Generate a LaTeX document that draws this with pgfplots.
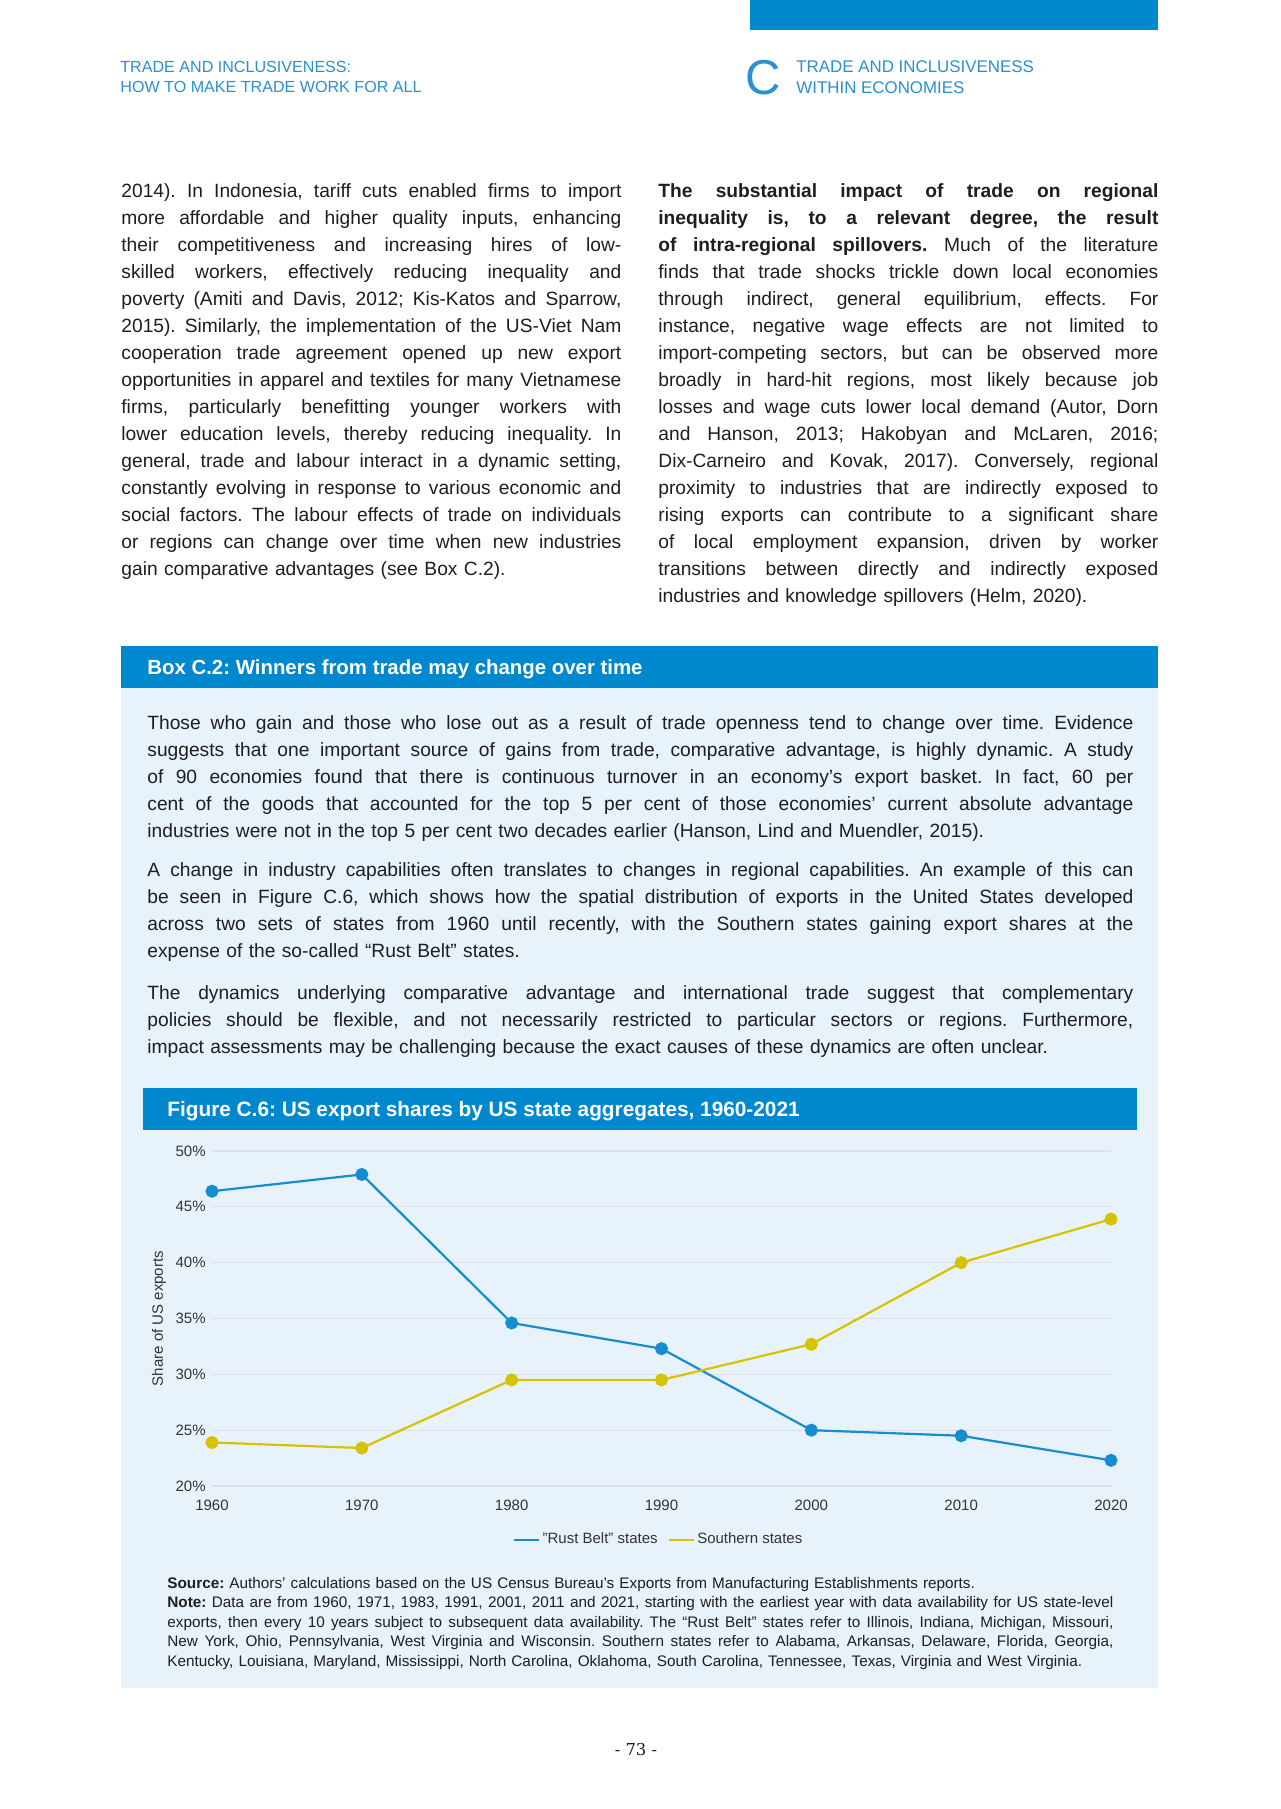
\documentclass[border=0pt]{standalone}
\usepackage{fontspec}
\setmainfont{Liberation Sans}
\newfontfamily\pnfont{DejaVu Serif}
\usepackage{pgfplots}
\pgfplotsset{compat=1.18}
\definecolor{wtoblue}{HTML}{0088CE}
\definecolor{hdrblue}{HTML}{2C8FD0}
\definecolor{boxbg}{HTML}{E8F2FB}
\definecolor{rust}{HTML}{168DD0}
\definecolor{south}{HTML}{D6C300}
\definecolor{gridc}{HTML}{DEDFE8}
\definecolor{txt}{HTML}{1E1E1E}
\definecolor{chartgray}{HTML}{333333}
\newlength\lw
\newcommand\J[1]{\par\noindent\hbox to\lw{\spaceskip=.26em plus 3em minus .07em\relax\xspaceskip=\spaceskip #1}}
\newcommand\E[1]{\par\noindent\hbox to\lw{#1\hfil}}
\newcommand\bodyfont{\fontsize{9.6pt}{13.52pt}\selectfont\frenchspacing\setlength\lw{250pt}}
\newcommand\boxfont{\fontsize{9.6pt}{13.4pt}\selectfont\frenchspacing\setlength\lw{493pt}}
\newcommand\notefont{\fontsize{7.65pt}{9.8pt}\selectfont\frenchspacing\setlength\lw{473pt}}
\newcommand\chartfont{\fontsize{7.5pt}{9pt}\selectfont}
\frenchspacing
\begin{document}
\begin{tikzpicture}
\path[use as bounding box, fill=white] (0pt,0pt) rectangle (640pt,-904.5pt);
\begin{scope}[x=0.5pt,y=-0.5pt]
% header
\fill[wtoblue] (750,0) rectangle (1158,30);
\node[anchor=base west, inner sep=0pt, text=hdrblue, font=\fontsize{8.05pt}{9pt}\selectfont] at (120,72.5) {TRADE AND INCLUSIVENESS:};
\node[anchor=base west, inner sep=0pt, text=hdrblue, font=\fontsize{8.05pt}{9pt}\selectfont] at (120,92.5) {HOW TO MAKE TRADE WORK FOR ALL};
\node[anchor=base west, inner sep=0pt, text=hdrblue, font=\fontsize{24.5pt}{26pt}\selectfont] at (745,95) {C};
\node[anchor=base west, inner sep=0pt, text=hdrblue, font=\fontsize{8.45pt}{9pt}\selectfont] at (796,72.5) {TRADE AND INCLUSIVENESS};
\node[anchor=base west, inner sep=0pt, text=hdrblue, font=\fontsize{8.45pt}{9pt}\selectfont] at (796,93.5) {WITHIN ECONOMIES};
% left column
\node[anchor=base west, inner sep=0pt, text width=250pt, text=txt, font=\bodyfont] at (121,170) {%
\J{2014). In Indonesia, tariff cuts enabled firms to import}%
\J{more affordable and higher quality inputs, enhancing}%
\J{their competitiveness and increasing hires of low-}%
\J{skilled workers, effectively reducing inequality and}%
\J{poverty (Amiti and Davis, 2012; Kis-Katos and Sparrow,}%
\J{2015). Similarly, the implementation of the US-Viet Nam}%
\J{cooperation trade agreement opened up new export}%
\J{opportunities in apparel and textiles for many Vietnamese}%
\J{firms, particularly benefitting younger workers with}%
\J{lower education levels, thereby reducing inequality. In}%
\J{general, trade and labour interact in a dynamic setting,}%
\J{constantly evolving in response to various economic and}%
\J{social factors. The labour effects of trade on individuals}%
\J{or regions can change over time when new industries}%
\E{gain comparative advantages (see Box C.2).}};
% right column
\node[anchor=base west, inner sep=0pt, text width=250pt, text=txt, font=\bodyfont] at (658,170) {%
\J{\textbf{The substantial impact of trade on regional}}%
\J{\textbf{inequality is, to a relevant degree, the result}}%
\J{\textbf{of intra-regional spillovers.} Much of the literature}%
\J{finds that trade shocks trickle down local economies}%
\J{through indirect, general equilibrium, effects. For}%
\J{instance, negative wage effects are not limited to}%
\J{import-competing sectors, but can be observed more}%
\J{broadly in hard-hit regions, most likely because job}%
\J{losses and wage cuts lower local demand (Autor, Dorn}%
\J{and Hanson, 2013; Hakobyan and McLaren, 2016;}%
\J{Dix-Carneiro and Kovak, 2017). Conversely, regional}%
\J{proximity to industries that are indirectly exposed to}%
\J{rising exports can contribute to a significant share}%
\J{of local employment expansion, driven by worker}%
\J{transitions between directly and indirectly exposed}%
\E{industries and knowledge spillovers (Helm, 2020).}};
% box
\fill[boxbg] (121,688) rectangle (1158,1688);
\fill[wtoblue] (121,646) rectangle (1158,688);
\node[anchor=base west, inner sep=0pt, text=white, font=\fontsize{10.2pt}{12pt}\selectfont\bfseries] at (147,674) {Box C.2: Winners from trade may change over time};
\node[anchor=base west, inner sep=0pt, text width=493pt, text=txt, font=\boxfont] at (147,703) {%
\J{Those who gain and those who lose out as a result of trade openness tend to change over time. Evidence}%
\J{suggests that one important source of gains from trade, comparative advantage, is highly dynamic. A study}%
\J{of 90 economies found that there is continuous turnover in an economy’s export basket. In fact, 60 per}%
\J{cent of the goods that accounted for the top 5 per cent of those economies’ current absolute advantage}%
\E{industries were not in the top 5 per cent two decades earlier (Hanson, Lind and Muendler, 2015).}};
\node[anchor=base west, inner sep=0pt, text width=493pt, text=txt, font=\boxfont] at (147,850) {%
\J{A change in industry capabilities often translates to changes in regional capabilities. An example of this can}%
\J{be seen in Figure C.6, which shows how the spatial distribution of exports in the United States developed}%
\J{across two sets of states from 1960 until recently, with the Southern states gaining export shares at the}%
\E{expense of the so-called “Rust Belt” states.}};
\node[anchor=base west, inner sep=0pt, text width=493pt, text=txt, font=\boxfont] at (147,973) {%
\J{The dynamics underlying comparative advantage and international trade suggest that complementary}%
\J{policies should be flexible, and not necessarily restricted to particular sectors or regions. Furthermore,}%
\E{impact assessments may be challenging because the exact causes of these dynamics are often unclear.}};
% figure title bar
\fill[wtoblue] (143,1088) rectangle (1137,1130);
\node[anchor=base west, inner sep=0pt, text=white, font=\fontsize{10.4pt}{12pt}\selectfont\bfseries] at (167,1116) {Figure C.6: US export shares by US state aggregates, 1960-2021};
% source and note
\node[anchor=base west, inner sep=0pt, text width=473pt, text=txt, font=\notefont] at (167,1568.5) {%
\E{\textbf{Source:} Authors’ calculations based on the US Census Bureau’s Exports from Manufacturing Establishments reports.}%
\J{\textbf{Note:} Data are from 1960, 1971, 1983, 1991, 2001, 2011 and 2021, starting with the earliest year with data availability for US state-level}%
\J{exports, then every 10 years subject to subsequent data availability. The “Rust Belt” states refer to Illinois, Indiana, Michigan, Missouri,}%
\J{New York, Ohio, Pennsylvania, West Virginia and Wisconsin. Southern states refer to Alabama, Arkansas, Delaware, Florida, Georgia,}%
\E{Kentucky, Louisiana, Maryland, Mississippi, North Carolina, Oklahoma, South Carolina, Tennessee, Texas, Virginia and West Virginia.}};
% page number
\node[anchor=base, inner sep=0pt, text=txt, font=\pnfont\fontsize{8.2pt}{10pt}\selectfont] at (636,1755) {- 73 -};
\end{scope}
\begin{axis}[
  at={(106pt,-743pt)}, anchor=south west,
  scale only axis, width=449.5pt, height=167.5pt,
  xmin=1960, xmax=2020, ymin=20, ymax=50,
  xtick={1960,1970,...,2020}, ytick={20,25,...,50},
  axis line style={draw=none}, major tick length=0pt,
  ymajorgrids, grid style={gridc, line width=0.6pt},
  clip=false,
  /pgf/number format/assume math mode=true,
  xticklabel style={/pgf/number format/1000 sep={}, font=\chartfont, text=chartgray, anchor=north, inner sep=0pt, yshift=-7pt},
  yticklabel={\pgfmathprintnumber{\tick}\%},
  yticklabel style={font=\chartfont, text=chartgray, inner sep=0pt, anchor=east, xshift=-3pt},
  ylabel={Share of US exports},
  ylabel style={font=\chartfont, text=chartgray, at={(axis description cs:-0.059,0.5)}, anchor=center},
  legend columns=2,
  legend cell align=left,
  legend style={draw=none, fill=none, font=\chartfont, text=chartgray, at={(axis description cs:0.498,-0.161)}, anchor=center, /tikz/every even column/.append style={column sep=3pt}, /tikz/every odd column/.append style={column sep=-1pt}},
  legend image code/.code={\draw[#1, line width=1.3pt] (0pt,0pt) -- (12.5pt,0pt);},
]
\addplot[rust, line width=1.1pt, mark=*, mark size=2.7pt, mark options={fill=rust, draw=rust}] coordinates {
(1960,46.4) (1970,47.9) (1980,34.6) (1990,32.3) (2000,25.0) (2010,24.5) (2020,22.3)};
\addlegendentry{"Rust Belt" states}
\addplot[south, line width=1.1pt, mark=*, mark size=2.7pt, mark options={fill=south, draw=south}] coordinates {
(1960,23.9) (1970,23.4) (1980,29.5) (1990,29.5) (2000,32.7) (2010,40.0) (2020,43.9)};
\addlegendentry{Southern states}
\end{axis}
\end{tikzpicture}
\end{document}
